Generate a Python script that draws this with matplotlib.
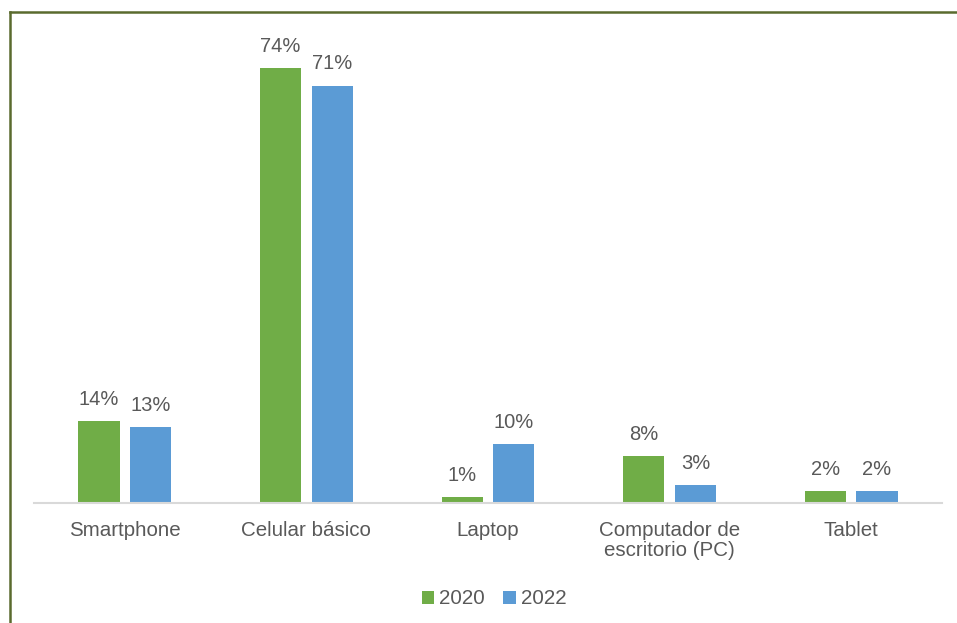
import matplotlib.pyplot as plt
import numpy as np
from matplotlib.lines import Line2D

plt.rcParams['font.family'] = ['Liberation Sans', 'DejaVu Sans']

categories = ["Smartphone", "Celular básico", "Laptop", "Computador de\nescritorio (PC)", "Tablet"]
years = ["2020", "2022"]
values_2020 = [14, 74, 1, 8, 2]
values_2022 = [13, 71, 10, 3, 2]

colors = ["#70AD47", "#5B9BD5"]
text_color = "#595959"

W, H = 957, 623
fig = plt.figure(figsize=(W / 100, H / 100), dpi=100)
ax = fig.add_axes([34 / W, 120 / H, (942 - 34) / W, (503 - 32.6) / H])

x = np.arange(len(categories))
width = 0.226
off = 0.142
for vals, shift, col, lab in [(values_2020, -off, colors[0], years[0]),
                              (values_2022, off, colors[1], years[1])]:
    bars = ax.bar(x + shift, vals, width, color=col, label=lab)
    for b, v in zip(bars, vals):
        ax.annotate(f"{v}%", (b.get_x() + b.get_width() / 2, v),
                    xytext=(0, 15.5), textcoords="offset points",
                    ha="center", va="center", fontsize=14.5, color=text_color)

ax.set_xlim(-0.5, len(categories) - 0.5)
ax.set_ylim(0, 80)
ax.set_yticks([])
ax.set_xticks(x)
ax.set_xticklabels(categories, fontsize=14.8, color=text_color, linespacing=1.05)
ax.tick_params(axis="x", length=0, pad=13)
for s in ["top", "right", "left"]:
    ax.spines[s].set_visible(False)
ax.spines["bottom"].set_color("#D9D9D9")
ax.spines["bottom"].set_linewidth(1.5)

fig.legend(loc="center", bbox_to_anchor=(494 / W, 1 - 599 / H), ncol=2,
           frameon=False, fontsize=14.8, labelcolor=text_color,
           handlelength=0.6, handleheight=0.6, handletextpad=0.25,
           columnspacing=0.9)

# outer frame lines (left and top)
fig.add_artist(Line2D([9.5 / W, 9.5 / W], [0, 1 - 12 / H], transform=fig.transFigure,
                      color="#5A6B2E", lw=1.8))
fig.add_artist(Line2D([9.5 / W, 1], [1 - 12 / H, 1 - 12 / H], transform=fig.transFigure,
                      color="#5A6B2E", lw=1.8))

fig.savefig("out.png", dpi=100)
